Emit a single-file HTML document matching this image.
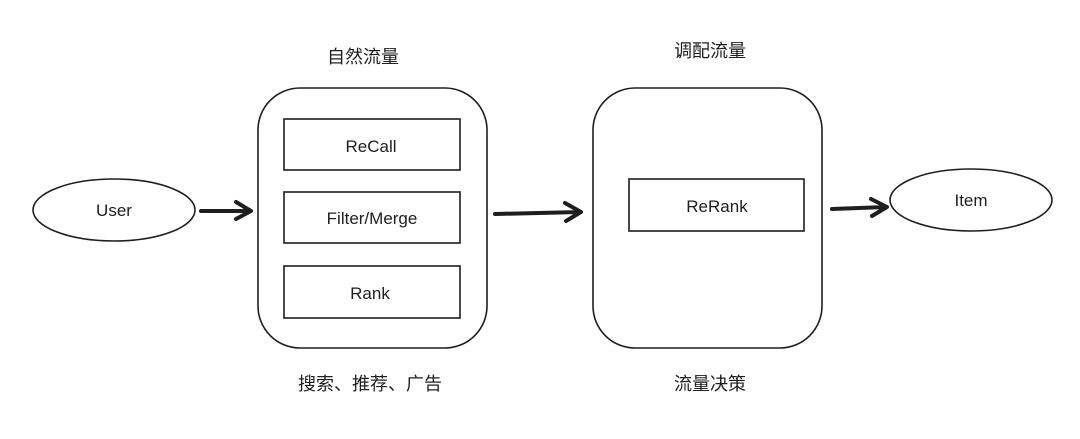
<!DOCTYPE html>
<html><head><meta charset="utf-8"><style>
html,body{margin:0;padding:0;background:#fff;}
svg{display:block}
.t{font-family:"Liberation Sans","Noto Sans CJK SC",sans-serif;font-size:18px;fill:#1e1e1e}
.h{font-family:"Comic Sans MS","Liberation Sans",sans-serif;font-size:17px;fill:#1e1e1e}
</style></head><body>
<svg width="1080" height="439" viewBox="0 0 1080 439" xmlns="http://www.w3.org/2000/svg">
<g fill="none" stroke="#1e1e1e" stroke-width="1.6">
<rect x="258" y="88" width="229" height="260" rx="42"/>
<rect x="284" y="119" width="176" height="51"/>
<rect x="284" y="192" width="176" height="51"/>
<rect x="284" y="266" width="176" height="52"/>
<rect x="593" y="88" width="229" height="260" rx="42"/>
<rect x="629" y="179" width="175" height="52"/>
<ellipse cx="114" cy="210" rx="81" ry="31"/>
<ellipse cx="971" cy="200" rx="81" ry="31"/>
</g>
<g fill="none" stroke="#1e1e1e" stroke-width="4" stroke-linecap="round" stroke-linejoin="round">
<path d="M201 211 L250 211 M236 202 L251 211 L236 219"/>
<path d="M495 214 L580 212 M565 203 L581 212 L566 221"/>
<path d="M832 209 L886 207 M871 199 L887 207 L872 216"/>
</g>
<g text-anchor="middle">
<text class="t" x="363" y="63">自然流量</text>
<text class="t" x="710" y="57">调配流量</text>
<text class="t" x="370" y="390">搜索、推荐、广告</text>
<text class="t" x="710" y="390">流量决策</text>
<text class="h" x="114" y="216">User</text>
<text class="h" x="371" y="152">ReCall</text>
<text class="h" x="372" y="224">Filter/Merge</text>
<text class="h" x="370" y="299">Rank</text>
<text class="h" x="717" y="212">ReRank</text>
<text class="h" x="971" y="206">Item</text>
</g>
</svg>
</body></html>
